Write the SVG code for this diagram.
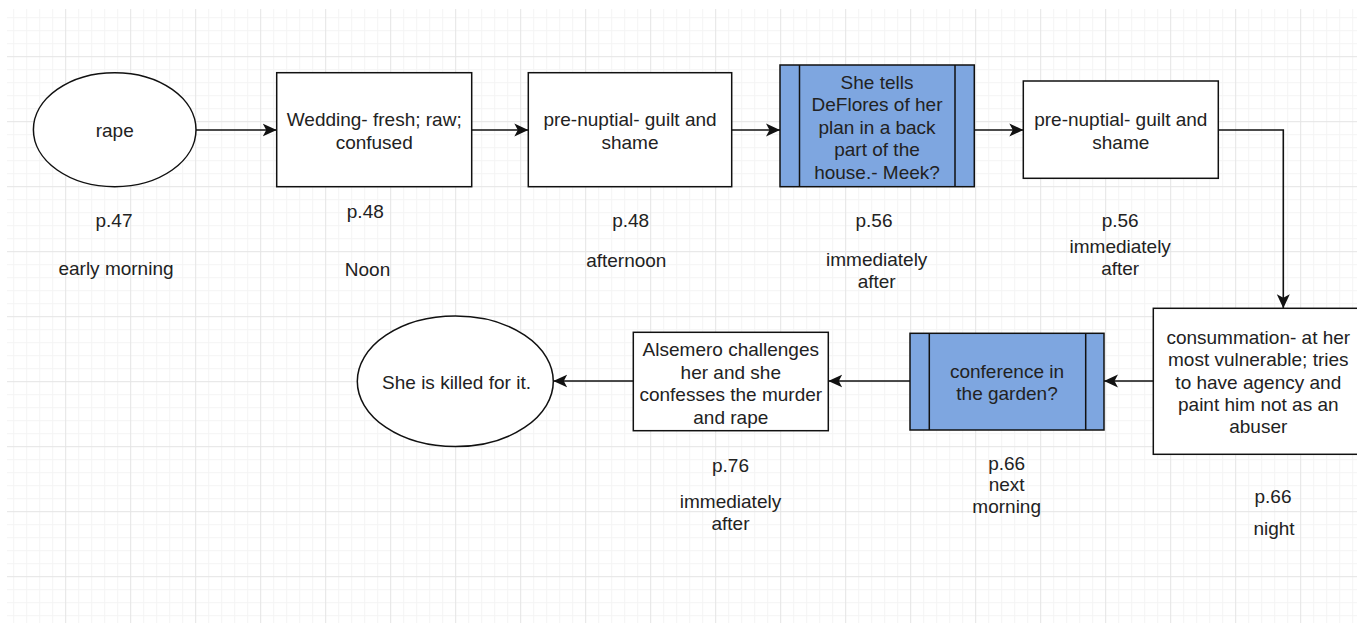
<svg xmlns="http://www.w3.org/2000/svg" width="1357" height="623" viewBox="0 0 1357 623">
<style>
  .box{fill:#ffffff;stroke:#111111;stroke-width:1.5}
  .blue{fill:#7ea6e0;stroke:#111111;stroke-width:1.5}
  .bar{stroke:#111111;stroke-width:1.5;fill:none}
  .edge{fill:none;stroke:#111111;stroke-width:1.6}
  text{font-family:"Liberation Sans",Arial,sans-serif;font-size:19px;fill:#222222;text-anchor:middle}
</style>
<defs>
  <pattern id="grid" patternUnits="userSpaceOnUse" x="0.2" y="-8.8" width="65" height="65">
    <path d="M13.5 0V65M26.5 0V65M39.5 0V65M52.5 0V65M0 13.5H65M0 26.5H65M0 39.5H65M0 52.5H65" stroke="#f4f4f4" stroke-width="1" fill="none"/>
    <path d="M0.5 0V65M0 0.5H65" stroke="#e4e4e4" stroke-width="1" fill="none"/>
  </pattern>
  <marker id="arr" markerUnits="userSpaceOnUse" markerWidth="15" markerHeight="14" refX="14" refY="7" orient="auto">
    <path d="M0,0.5 L14,7 L0,13.5 L3.5,7 Z" fill="#111111"/>
  </marker>
</defs>
<rect x="0" y="0" width="1357" height="623" fill="#ffffff"/>
<rect x="7" y="9" width="1350" height="614" fill="url(#grid)"/>

<g id="connectors">
  <path class="edge" d="M196 130H276.7" marker-end="url(#arr)"/>
  <path class="edge" d="M471.7 130H528.3" marker-end="url(#arr)"/>
  <path class="edge" d="M731.7 130H780" marker-end="url(#arr)"/>
  <path class="edge" d="M974.3 130H1023.3" marker-end="url(#arr)"/>
  <path class="edge" d="M1218.3 130H1283.3V308.3" marker-end="url(#arr)"/>
  <path class="edge" d="M1153.3 381H1104" marker-end="url(#arr)"/>
  <path class="edge" d="M910 381H828.3" marker-end="url(#arr)"/>
  <path class="edge" d="M633.3 381H553.3" marker-end="url(#arr)"/>
</g>

<g id="n-rape">
  <ellipse class="box" cx="114.7" cy="129.7" rx="81.3" ry="57"/>
  <text x="114.7" y="137">rape</text>
  <text x="114" y="226.5">p.47</text>
  <text x="116" y="275">early morning</text>
</g>

<g id="n-wedding">
  <rect class="box" x="276.7" y="72.7" width="195" height="114"/>
  <text x="374.2" y="126">Wedding- fresh; raw;</text>
  <text x="374.2" y="148.5">confused</text>
  <text x="365.3" y="218">p.48</text>
  <text x="367.5" y="276">Noon</text>
</g>

<g id="n-prenuptial1">
  <rect class="box" x="528.3" y="72.7" width="203.4" height="114"/>
  <text x="630" y="126">pre-nuptial- guilt and</text>
  <text x="630" y="148.5">shame</text>
  <text x="630.7" y="226.5">p.48</text>
  <text x="626.3" y="267">afternoon</text>
</g>

<g id="n-deflores">
  <rect class="blue" x="780" y="65" width="194.3" height="121.7"/>
  <path class="bar" d="M799.5 65V186.7M955 65V186.7"/>
  <text x="877" y="88.5">She tells</text>
  <text x="877" y="111">DeFlores of her</text>
  <text x="877" y="133.5">plan in a back</text>
  <text x="877" y="156">part of the</text>
  <text x="877" y="178.5">house.- Meek?</text>
  <text x="874" y="226.5">p.56</text>
  <text x="876.7" y="265.5">immediately</text>
  <text x="876.7" y="287.5">after</text>
</g>

<g id="n-prenuptial2">
  <rect class="box" x="1023.3" y="81" width="195" height="97.3"/>
  <text x="1120.8" y="126">pre-nuptial- guilt and</text>
  <text x="1120.8" y="148.5">shame</text>
  <text x="1120.2" y="226.5">p.56</text>
  <text x="1120.2" y="252.5">immediately</text>
  <text x="1120.2" y="275">after</text>
</g>

<g id="n-consummation">
  <rect class="box" x="1153.3" y="308.3" width="215" height="146"/>
  <text x="1258.3" y="344">consummation- at her</text>
  <text x="1258.3" y="366.3">most vulnerable; tries</text>
  <text x="1258.3" y="388.6">to have agency and</text>
  <text x="1258.3" y="411">paint him not as an</text>
  <text x="1258.3" y="433.3">abuser</text>
  <text x="1273" y="502.5">p.66</text>
  <text x="1274" y="535">night</text>
</g>

<g id="n-conference">
  <rect class="blue" x="910" y="333.3" width="194" height="96.7"/>
  <path class="bar" d="M929.3 333.3V430M1085.7 333.3V430"/>
  <text x="1007" y="377.5">conference in</text>
  <text x="1007" y="400">the garden?</text>
  <text x="1006.7" y="470">p.66</text>
  <text x="1006.7" y="491">next</text>
  <text x="1006.7" y="512.5">morning</text>
</g>

<g id="n-alsemero">
  <rect class="box" x="633.3" y="332.3" width="195" height="98.4"/>
  <text x="730.8" y="356">Alsemero challenges</text>
  <text x="730.8" y="378.7">her and she</text>
  <text x="730.8" y="401.3">confesses the murder</text>
  <text x="730.8" y="424">and rape</text>
  <text x="730.5" y="471.5">p.76</text>
  <text x="730.5" y="508">immediately</text>
  <text x="730.5" y="530">after</text>
</g>

<g id="n-killed">
  <ellipse class="box" cx="455.3" cy="381.3" rx="98" ry="65.3"/>
  <text x="456.5" y="389">She is killed for it.</text>
</g>
</svg>
